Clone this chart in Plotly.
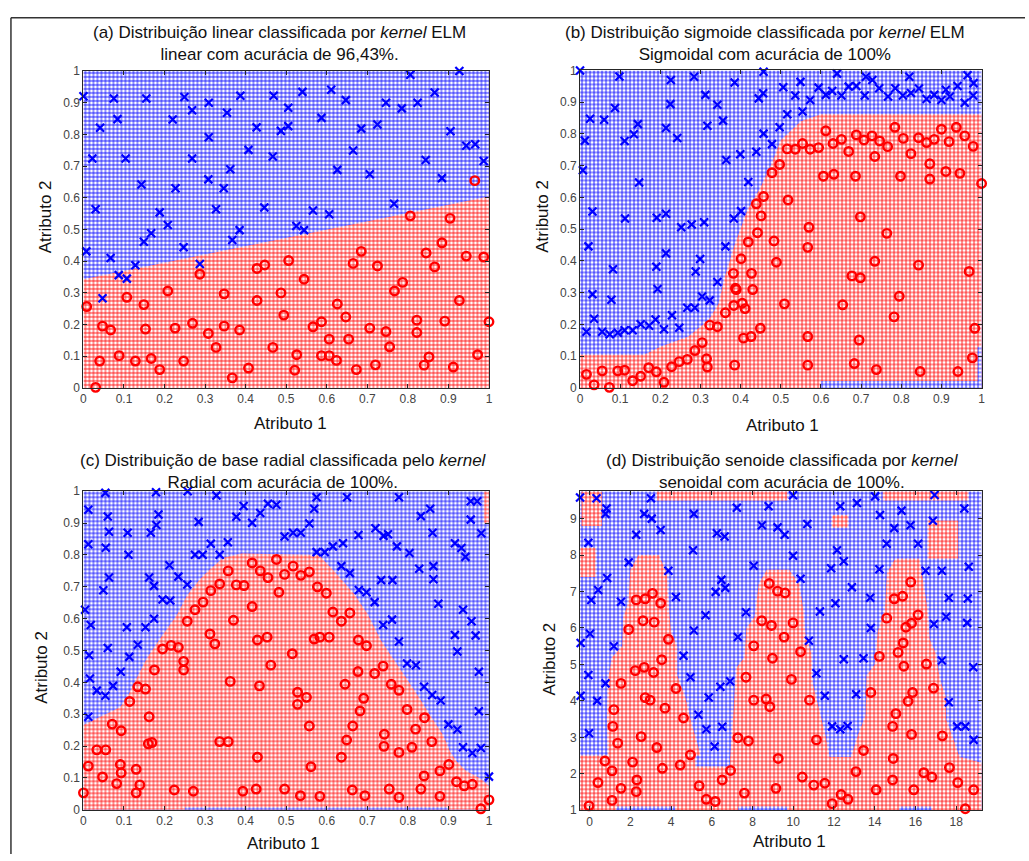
import plotly.graph_objects as go

W, H = 1029, 861
BLUE = "#0000ff"
RED = "#ff0000"

# ---------------- Panel (a) data ----------------
a_blue = [(0.0,0.92),(0.022,0.724),(0.041,0.821),(0.03,0.564),(0.007,0.431),(0.067,0.41),(0.047,0.283),
          (0.075,0.913),(0.084,0.848),(0.104,0.724),(0.087,0.356),(0.107,0.345),(0.128,0.387),(0.143,0.642),
          (0.149,0.461),(0.155,0.913),(0.167,0.488),(0.188,0.554),(0.208,0.514),(0.22,0.847),(0.227,0.63),
          (0.249,0.918),(0.247,0.444),(0.268,0.876),(0.268,0.724),(0.287,0.391),(0.309,0.9),(0.309,0.791),
          (0.308,0.658),(0.327,0.564),(0.346,0.63),(0.354,0.868),(0.362,0.69),(0.367,0.467),(0.385,0.498),
          (0.387,0.922),(0.407,0.751),(0.427,0.822),(0.446,0.569),(0.467,0.73),(0.469,0.922),(0.487,0.811),
          (0.505,0.884),(0.505,0.826),(0.525,0.511),(0.544,0.498),(0.54,0.934),(0.566,0.56),(0.587,0.852),
          (0.606,0.548),(0.611,0.941),(0.626,0.688),(0.647,0.908),(0.665,0.749),(0.685,0.818),(0.706,0.674),
          (0.725,0.831),(0.746,0.9),(0.766,0.581),(0.785,0.882),(0.806,0.988),(0.824,0.9),(0.844,0.719),
          (0.866,0.932),(0.884,0.662),(0.905,0.81),(0.927,1.0),(0.944,0.764),(0.966,0.769),(0.987,0.716)]
a_red = [(0.965,0.654),(0.008,0.257),(0.03,0.002),(0.04,0.085),(0.047,0.195),(0.067,0.183),(0.088,0.102),
         (0.107,0.286),(0.128,0.085),(0.149,0.263),(0.153,0.186),(0.167,0.093),(0.188,0.058),(0.208,0.306),
         (0.226,0.189),(0.247,0.085),(0.269,0.204),(0.287,0.359),(0.308,0.172),(0.327,0.128),(0.347,0.297),
         (0.347,0.195),(0.367,0.032),(0.385,0.183),(0.407,0.063),(0.428,0.377),(0.447,0.388),(0.428,0.276),
         (0.467,0.128),(0.487,0.3),(0.494,0.23),(0.506,0.402),(0.526,0.105),(0.521,0.056),(0.544,0.343),
         (0.566,0.193),(0.587,0.209),(0.587,0.102),(0.606,0.154),(0.606,0.102),(0.624,0.087),(0.626,0.265),
         (0.647,0.224),(0.654,0.154),(0.665,0.393),(0.685,0.431),(0.673,0.058),(0.706,0.189),(0.72,0.073),
         (0.725,0.385),(0.746,0.178),(0.755,0.13),(0.767,0.306),(0.787,0.333),(0.806,0.543),(0.822,0.214),
         (0.822,0.175),(0.84,0.072),(0.852,0.098),(0.845,0.426),(0.866,0.382),(0.884,0.458),(0.891,0.211),
         (0.904,0.535),(0.912,0.066),(0.927,0.276),(0.944,0.416),(0.972,0.105),(0.987,0.413),(1.0,0.209)]
a_boundary = [(0.0,0.343),(1.0,0.604)]

# ---------------- Panel (b) data ----------------
b_blue = [(0,1.0),(0.012,0.779),(0.007,0.686),(0.025,0.848),(0.06,0.845),(0.087,0.882),(0.098,0.981),
          (0.111,0.778),(0.134,0.799),(0.144,0.831),(0.147,0.647),(0.031,0.556),(0.021,0.446),(0.082,0.374),
          (0.031,0.295),(0.035,0.218),(0.016,0.177),(0.078,0.278),(0.055,0.177),(0.074,0.169),(0.094,0.174),
          (0.112,0.534),(0.111,0.182),(0.131,0.182),(0.151,0.201),(0.172,0.196),(0.191,0.536),(0.19,0.382),
          (0.193,0.312),(0.188,0.216),(0.209,0.185),(0.214,0.549),(0.214,0.819),(0.214,0.424),(0.226,0.97),
          (0.225,0.894),(0.242,0.787),(0.229,0.229),(0.247,0.19),(0.252,0.506),(0.267,0.253),(0.278,0.515),
          (0.284,0.98),(0.286,0.253),(0.288,0.367),(0.299,0.406),(0.309,0.522),(0.304,0.288),(0.312,0.923),
          (0.317,0.826),(0.323,0.276),(0.342,0.892),(0.342,0.334),(0.356,0.842),(0.362,0.446),(0.364,0.718),
          (0.385,0.962),(0.383,0.534),(0.399,0.736),(0.401,0.557),(0.419,0.649),(0.439,0.744),(0.445,0.912),
          (0.456,0.928),(0.457,0.996),(0.457,0.801),(0.478,0.768),(0.497,0.821),(0.506,0.947),(0.516,0.862),
          (0.536,0.921),(0.549,0.964),(0.554,0.871),(0.573,0.907),(0.594,0.946),(0.612,0.923),(0.628,0.935),
          (0.64,0.99),(0.651,0.921),(0.669,0.949),(0.688,0.951),(0.709,0.921),(0.712,0.98),(0.728,0.97),
          (0.745,0.944),(0.767,0.918),(0.785,0.944),(0.804,0.921),(0.82,0.98),(0.824,0.929),(0.844,0.943),
          (0.863,0.91),(0.882,0.923),(0.9,0.907),(0.911,0.939),(0.921,0.918),(0.94,0.951),(0.958,0.898),
          (0.965,0.985),(0.98,0.96),(0.979,0.921)]
b_red = [(0.016,0.043),(0.035,0.01),(0.055,0.054),(0.073,0.002),(0.094,0.054),(0.111,0.056),(0.131,0.023),
         (0.151,0.037),(0.171,0.064),(0.19,0.051),(0.209,0.018),(0.228,0.067),(0.247,0.083),(0.267,0.09),
         (0.286,0.118),(0.304,0.143),(0.315,0.092),(0.317,0.066),(0.323,0.198),(0.342,0.193),(0.362,0.237),
         (0.383,0.26),(0.382,0.361),(0.387,0.314),(0.389,0.31),(0.401,0.407),(0.404,0.267),(0.411,0.25),
         (0.407,0.157),(0.385,0.072),(0.426,0.162),(0.427,0.361),(0.43,0.31),(0.419,0.46),(0.442,0.489),
         (0.439,0.58),(0.451,0.542),(0.457,0.603),(0.449,0.188),(0.478,0.678),(0.497,0.704),(0.483,0.463),
         (0.489,0.396),(0.518,0.592),(0.509,0.265),(0.516,0.753),(0.536,0.752),(0.554,0.77),(0.573,0.752),
         (0.594,0.757),(0.57,0.506),(0.567,0.443),(0.567,0.162),(0.567,0.072),(0.612,0.81),(0.606,0.667),
         (0.63,0.77),(0.632,0.673),(0.651,0.783),(0.654,0.262),(0.669,0.745),(0.688,0.797),(0.686,0.667),
         (0.677,0.353),(0.698,0.347),(0.698,0.539),(0.695,0.151),(0.683,0.077),(0.707,0.781),(0.727,0.794),
         (0.734,0.729),(0.746,0.778),(0.734,0.399),(0.738,0.058),(0.766,0.76),(0.764,0.487),(0.784,0.821),
         (0.795,0.289),(0.782,0.224),(0.798,0.667),(0.805,0.786),(0.824,0.738),(0.843,0.788),(0.843,0.387),
         (0.847,0.052),(0.863,0.773),(0.871,0.706),(0.871,0.658),(0.882,0.783),(0.9,0.815),(0.911,0.682),
         (0.919,0.776),(0.937,0.821),(0.946,0.676),(0.958,0.794),(0.979,0.761),(0.969,0.367),(0.983,0.188),
         (0.977,0.095),(0.941,0.052),(1.0,0.644)]
b_boundary = [(0,0.105),(0.16,0.105),(0.2,0.13),(0.27,0.162),(0.32,0.214),(0.345,0.265),(0.36,0.348),
              (0.385,0.451),(0.418,0.564),(0.447,0.626),(0.475,0.7),(0.5,0.78),(0.55,0.84),(0.6,0.862),(1.0,0.862)]
b_blue_pockets = [[(0.6,0.0),(0.6,0.022),(1.0,0.022),(1.0,0.0)],
                  [(0.99,0.0),(0.99,0.13),(1.0,0.13),(1.0,0.0)]]

# ---------------- Panel (c) data ----------------
c_blue = [(0.012,0.942),(0.012,0.834),(0.004,0.628),(0.018,0.58),(0.014,0.485),(0.016,0.412),(0.033,0.374),
          (0.012,0.292),(0.054,0.995),(0.06,0.921),(0.063,0.873),(0.055,0.823),(0.063,0.729),(0.049,0.689),
          (0.06,0.508),(0.054,0.358),(0.073,0.389),(0.092,0.433),(0.109,0.87),(0.111,0.801),(0.107,0.573),
          (0.113,0.48),(0.134,0.518),(0.153,0.573),(0.166,0.87),(0.162,0.729),(0.174,0.703),(0.174,0.6),
          (0.179,0.997),(0.185,0.927),(0.18,0.894),(0.195,0.66),(0.214,0.657),(0.212,0.768),(0.234,0.732),
          (0.256,0.707),(0.257,1.0),(0.284,0.904),(0.275,0.801),(0.294,0.801),(0.314,0.835),(0.336,0.801),
          (0.328,0.987),(0.356,0.84),(0.377,0.92),(0.395,0.954),(0.416,0.901),(0.436,0.932),(0.455,0.961),
          (0.476,0.958),(0.496,0.858),(0.517,0.87),(0.536,0.87),(0.557,0.899),(0.569,0.945),(0.575,0.981),
          (0.575,0.809),(0.595,0.809),(0.615,0.827),(0.636,0.765),(0.64,0.837),(0.65,0.981),(0.657,0.743),
          (0.678,0.863),(0.679,0.69),(0.698,0.683),(0.718,0.652),(0.72,0.884),(0.734,0.721),(0.74,0.86),
          (0.751,0.865),(0.739,0.58),(0.762,0.721),(0.761,0.597),(0.773,0.827),(0.778,0.981),(0.778,0.528),
          (0.804,0.806),(0.798,0.459),(0.82,0.454),(0.828,0.757),(0.832,0.922),(0.84,0.386),(0.855,0.945),
          (0.861,0.87),(0.863,0.765),(0.863,0.724),(0.86,0.36),(0.875,0.647),(0.881,0.343),(0.9,0.268),
          (0.916,0.837),(0.916,0.549),(0.922,0.497),(0.922,0.252),(0.932,0.822),(0.942,0.794),(0.936,0.628),
          (0.936,0.196),(0.955,0.911),(0.959,0.178),(0.957,0.592),(0.955,0.969),(0.971,0.969),(0.967,0.547),
          (0.981,0.868),(0.975,0.433),(0.975,0.309),(0.98,0.194),(1.0,0.104)]
c_red = [(0.0,0.053),(0.012,0.137),(0.033,0.188),(0.055,0.188),(0.047,0.103),(0.071,0.269),(0.082,0.082),
         (0.093,0.248),(0.091,0.142),(0.093,0.116),(0.114,0.34),(0.13,0.127),(0.13,0.053),(0.139,0.078),
         (0.134,0.386),(0.153,0.379),(0.175,0.439),(0.162,0.292),(0.16,0.207),(0.169,0.211),(0.195,0.505),
         (0.216,0.516),(0.234,0.51),(0.247,0.466),(0.247,0.439),(0.224,0.062),(0.256,0.592),(0.271,0.058),
         (0.275,0.628),(0.295,0.652),(0.314,0.688),(0.312,0.552),(0.324,0.521),(0.336,0.709),(0.336,0.214),
         (0.357,0.214),(0.357,0.75),(0.362,0.403),(0.37,0.595),(0.377,0.706),(0.396,0.704),(0.393,0.058),
         (0.416,0.638),(0.416,0.775),(0.429,0.533),(0.429,0.165),(0.426,0.065),(0.436,0.75),(0.434,0.389),
         (0.453,0.542),(0.455,0.729),(0.462,0.454),(0.476,0.786),(0.482,0.683),(0.496,0.739),(0.496,0.065),
         (0.515,0.49),(0.517,0.765),(0.528,0.369),(0.528,0.331),(0.535,0.044),(0.536,0.736),(0.55,0.353),
         (0.557,0.747),(0.557,0.263),(0.561,0.135),(0.569,0.536),(0.577,0.7),(0.583,0.542),(0.583,0.042),
         (0.599,0.68),(0.606,0.542),(0.615,0.621),(0.636,0.592),(0.636,0.165),(0.645,0.394),(0.649,0.219),
         (0.657,0.618),(0.663,0.062),(0.664,0.263),(0.678,0.533),(0.677,0.434),(0.682,0.31),(0.691,0.35),
         (0.694,0.044),(0.698,0.515),(0.718,0.428),(0.739,0.451),(0.742,0.237),(0.741,0.199),(0.754,0.065),
         (0.759,0.394),(0.778,0.375),(0.778,0.18),(0.778,0.039),(0.798,0.315),(0.81,0.196),(0.819,0.253),
         (0.832,0.065),(0.84,0.106),(0.841,0.289),(0.859,0.214),(0.879,0.122),(0.879,0.042),(0.901,0.142),
         (0.92,0.088),(0.939,0.075),(0.959,0.08),(0.98,0.003),(1.0,0.031)]
c_boundary = [(0.0,0.266),(0.09,0.322),(0.108,0.353),(0.132,0.415),(0.157,0.477),(0.19,0.539),(0.23,0.611),
              (0.255,0.672),(0.287,0.724),(0.312,0.755),(0.345,0.791),(0.39,0.805),(0.58,0.8),(0.618,0.75),
              (0.667,0.678),(0.7,0.616),(0.733,0.533),(0.765,0.472),(0.798,0.41),(0.83,0.348),(0.855,0.297),
              (0.887,0.235),(0.904,0.183),(0.92,0.152),(0.944,0.122),(0.977,0.1),(1.0,0.075)]
c_red_pockets = [[(0.988,0.9),(0.988,1.0),(1.0,1.0),(1.0,0.9)]]
c_blue_pockets = [[(0.25,0.0),(0.25,0.008),(0.9,0.008),(0.9,0.0)]]

# ---------------- Panel (d) data ----------------
d_blue = [(-0.47,9.58),(0.34,9.56),(0.83,9.28),(0.78,9.13),(-0.06,8.34),(0.42,7.04),(0.08,6.77),(0.86,7.37),
          (1.54,6.72),(0.02,5.84),(-0.44,5.59),(1.19,5.5),(-0.06,4.71),(0.78,4.48),(-0.44,4.14),(0.37,4.0),
          (-0.03,3.11),(1.92,7.8),(2.29,8.56),(2.68,9.13),(3.05,9.0),(3.01,9.56),(3.49,8.69),(3.87,7.57),
          (4.24,6.85),(4.61,5.24),(4.95,4.65),(5.12,9.13),(5.08,8.13),(5.12,5.93),(5.34,3.62),(5.69,6.35),
          (5.73,3.22),(5.85,4.09),(6.14,2.75),(6.19,6.99),(6.25,8.6),(6.42,4.39),(6.47,7.32),(6.51,3.29),
          (6.63,8.51),(6.66,7.1),(6.9,4.54),(7.23,9.3),(7.28,5.75),(7.68,6.43),(8.06,7.71),(8.46,8.82),
          (8.79,9.34),(9.23,8.76),(9.58,8.56),(9.99,9.64),(9.99,7.98),(10.36,7.35),(10.69,8.85),(10.77,5.65),
          (11.14,4.76),(11.31,6.45),(11.55,4.14),(11.86,7.64),(11.91,3.3),(12.07,6.68),(12.15,8.13),
          (12.31,9.34),(12.31,3.22),(12.48,7.83),(12.48,5.14),(12.67,3.31),(12.88,7.12),(13.09,4.18),
          (13.13,9.43),(13.45,5.17),(13.78,6.83),(13.81,6.0),(14.02,9.61),(14.26,9.1),(14.23,7.61),
          (14.59,8.31),(14.96,8.74),(15.32,9.22),(15.76,8.82),(16.13,8.31),(16.5,7.57),(16.86,8.94),
          (16.91,6.11),(16.94,9.65),(17.3,7.57),(17.3,5.11),(17.51,6.31),(17.64,6.83),(17.64,3.96),
          (18.05,3.3),(18.45,3.3),(18.4,9.28),(18.62,7.68),(18.54,6.14),(18.57,6.81),(18.84,4.92),
          (18.86,2.93),(19.27,9.76)]
d_red = [(-0.03,1.12),(0.41,1.76),(0.75,2.35),(1.1,2.08),(1.1,1.27),(1.14,3.3),(1.19,3.76),(1.38,2.84),
         (1.54,4.48),(1.54,1.6),(1.92,5.96),(2.11,2.32),(2.24,4.83),(2.29,6.77),(2.32,1.83),(2.29,1.51),
         (2.53,3.02),(2.68,4.92),(2.62,6.2),(2.73,6.8),(2.73,4.09),(2.97,4.02),(3.09,6.95),(3.14,4.78),
         (3.17,6.16),(3.3,2.72),(3.49,6.68),(3.54,5.13),(3.57,2.15),(3.7,3.8),(3.87,5.69),(4.24,4.34),
         (4.45,2.24),(4.61,3.53),(4.95,2.52),(5.38,1.67),(5.73,1.3),(6.17,1.24),(6.51,1.83),(6.92,2.09),
         (7.28,2.99),(7.6,1.47),(7.68,4.65),(7.8,2.9),(8.06,4.02),(8.06,5.51),(8.45,6.2),(8.67,4.05),
         (8.85,3.84),(8.82,7.22),(8.93,6.07),(8.98,5.17),(9.23,7.01),(9.26,2.42),(9.15,1.6),(9.55,5.75),
         (9.6,6.96),(9.99,6.14),(9.91,4.59),(10.36,5.35),(10.44,1.91),(10.8,4.02),(11.01,1.69),(11.14,2.93),
         (11.55,1.74),(11.91,1.18),(12.35,1.43),(12.69,1.3),(13.08,2.06),(13.45,2.64),(13.81,4.23),
         (14.07,1.56),(14.23,5.22),(14.59,6.27),(14.88,1.83),(14.91,2.42),(14.88,3.3),(14.96,6.8),
         (15.04,3.65),(15.15,5.33),(15.37,6.87),(15.4,5.59),(15.43,4.95),(15.53,6.02),(15.64,3.99),
         (15.81,6.13),(15.86,4.23),(15.81,3.08),(15.77,7.26),(15.92,1.56),(16.13,6.36),(16.41,2.03),
         (16.54,5.01),(16.81,1.91),(16.89,4.35),(17.32,3.04),(17.67,2.17),(18.08,1.76),(18.45,1.04),
         (18.86,1.56)]
d_red_regions = [
    [(-0.47,1.0),(19.25,1.0),(19.25,2.3),(18.3,2.45),(-0.47,2.5)],
    [(0.9,2.4),(0.85,3.5),(0.9,4.6),(1.1,5.2),(1.6,5.5),(1.65,6.3),(1.9,6.7),(2.0,7.6),(2.4,8.0),(3.4,8.0),
     (3.8,7.5),(3.9,6.5),(4.0,5.9),(4.3,5.5),(4.3,4.7),(4.7,4.1),(5.0,3.4),(5.3,2.8),(5.5,2.4)],
    [(6.9,2.4),(7.05,3.6),(7.2,4.9),(7.6,5.2),(7.7,6.0),(8.1,6.3),(8.3,7.2),(8.7,7.6),(9.8,7.6),(10.3,7.2),
     (10.5,6.5),(10.6,5.8),(10.9,5.3),(10.95,4.5),(11.3,3.7),(11.6,3.0),(11.8,2.4)],
    [(12.8,2.4),(13.2,3.1),(13.55,3.6),(13.6,4.7),(14.0,5.0),(14.15,5.9),(14.5,6.5),(14.6,7.5),(15.0,7.9),
     (16.2,7.9),(16.4,7.2),(16.6,6.5),(16.7,5.7),(17.0,5.3),(17.2,4.6),(17.5,4.1),(17.5,3.5),(17.9,2.9),
     (18.2,2.4)],
    [(16.6,7.9),(16.6,8.95),(18.1,8.95),(18.1,7.9)],
    [(-0.4,8.8),(-0.4,9.75),(0.6,9.75),(0.6,8.8)],
    [(-0.47,7.4),(-0.47,8.2),(0.3,8.2),(0.3,7.4)],
    [(3.3,9.5),(3.3,9.75),(9.7,9.75),(9.7,9.5)],
    [(14.4,9.5),(14.4,9.75),(18.6,9.75),(18.6,9.5)],
    [(11.9,8.75),(11.9,9.1),(12.7,9.1),(12.7,8.75)],
]
d_blue_pockets = [
    [(1.3,1.0),(1.3,1.1),(4.2,1.1),(4.2,1.0)],
    [(7.3,1.0),(7.3,1.1),(9.7,1.1),(9.7,1.0)],
    [(15.2,1.0),(15.2,1.1),(16.8,1.1),(16.8,1.0)],
    [(5.2,2.2),(5.2,2.5),(6.9,2.5),(6.9,2.2)],
]

unit_range = [0, 1]
d_xrange = [-0.47, 19.25]
d_yrange = [1.0, 9.75]
unit_ticks = [0, 0.1, 0.2, 0.3, 0.4, 0.5, 0.6, 0.7, 0.8, 0.9, 1]
d_xticks = [0, 2, 4, 6, 8, 10, 12, 14, 16, 18]
d_yticks = [1, 2, 3, 4, 5, 6, 7, 8, 9]

titles = ["(a) Distribuição linear classificada por <i>kernel</i> ELM<br>linear com acurácia de 96,43%.",
          "(b) Distribuição sigmoide classificada por <i>kernel</i> ELM<br>Sigmoidal com acurácia de 100%",
          "(c) Distribuição de base radial classificada pelo <i>kernel</i><br>Radial com acurácia de 100%.",
          "(d) Distribuição senoide classificada por <i>kernel</i><br>senoidal com acurácia de 100%."]

FONT = "Liberation Sans, Arial, sans-serif"

fig = go.Figure()


def region(pts, color, ax):
    xs = [p[0] for p in pts] + [pts[0][0]]
    ys = [p[1] for p in pts] + [pts[0][1]]
    fig.add_trace(go.Scatter(
        x=xs, y=ys, mode="none", fill="toself", hoverinfo="skip", showlegend=False,
        fillpattern=dict(shape="+", fgcolor=color, bgcolor="white", size=4, solidity=0.38, fillmode="replace"),
        xaxis="x" + ax, yaxis="y" + ax))


def rect(xr, yr):
    return [(xr[0], yr[0]), (xr[0], yr[1]), (xr[1], yr[1]), (xr[1], yr[0])]


def points(pts, kind, ax):
    if kind == "x":
        mk = dict(symbol="x-thin", size=8, line=dict(color=BLUE, width=2.2), color=BLUE)
    else:
        mk = dict(symbol="circle-open", size=8.5, line=dict(color=RED, width=2.4), color=RED)
    fig.add_trace(go.Scatter(x=[p[0] for p in pts], y=[p[1] for p in pts], mode="markers", marker=mk,
                             cliponaxis=False, showlegend=False, hoverinfo="skip",
                             xaxis="x" + ax, yaxis="y" + ax))


# Panel a
region(rect(unit_range, unit_range), RED, "")
region([(0, 1)] + a_boundary + [(1, 1)], BLUE, "")
points(a_blue, "x", "")
points(a_red, "o", "")

# Panel b
region(rect(unit_range, unit_range), BLUE, "2")
region([(0, 0)] + b_boundary + [(1, 0)], RED, "2")
for p in b_blue_pockets:
    region(p, BLUE, "2")
points(b_blue, "x", "2")
points(b_red, "o", "2")

# Panel c
region(rect(unit_range, unit_range), BLUE, "3")
region([(0, 0)] + c_boundary + [(1, 0)], RED, "3")
for p in c_red_pockets:
    region(p, RED, "3")
for p in c_blue_pockets:
    region(p, BLUE, "3")
points(c_blue, "x", "3")
points(c_red, "o", "3")

# Panel d
region(rect(d_xrange, d_yrange), BLUE, "4")
for p in d_red_regions:
    region(p, RED, "4")
for p in d_blue_pockets:
    region(p, BLUE, "4")
points(d_blue, "x", "4")
points(d_red, "o", "4")

# Layout: pixel boxes of each axes
boxes = {"": (81, 489.3, 65, 387.3), "2": (581, 985.3, 64.5, 387.3),
         "3": (81, 489.3, 492.3, 816), "4": (581, 985.3, 492.3, 816.5)}
ranges = {"": (unit_range, unit_range, unit_ticks, unit_ticks),
          "2": (unit_range, unit_range, unit_ticks, unit_ticks),
          "3": (unit_range, unit_range, unit_ticks, unit_ticks),
          "4": (d_xrange, d_yrange, d_xticks, d_yticks)}

axstyle = dict(showline=True, linecolor="#262626", linewidth=1, mirror="ticks", ticks="inside",
               ticklen=4, tickcolor="#262626", showgrid=False, zeroline=False,
               tickfont=dict(family=FONT, size=12, color="#444"))
lay = {}
for k, (x0, x1, y0, y1) in boxes.items():
    xr, yr, xt, yt = ranges[k]
    lay["xaxis" + k] = dict(domain=[x0 / W, x1 / W], range=xr, tickvals=xt, anchor="y" + k, **axstyle)
    lay["yaxis" + k] = dict(domain=[1 - y1 / H, 1 - y0 / H], range=yr, tickvals=yt, anchor="x" + k, **axstyle)

ann = []
title_pos = [(278, 37.5), (767, 37.5), (282, 471.7), (785, 472)]
for t, (x, y) in zip(titles, title_pos):
    ann.append(dict(text=t, x=x / W, y=1 - y / H, xref="paper", yref="paper", showarrow=False,
                    xanchor="center", yanchor="middle", font=dict(family=FONT, size=17, color="#111")))
xlab_pos = [(289, 423), (785, 425), (282, 850), (792, 848)]
for (x, y) in xlab_pos:
    ann.append(dict(text="Atributo 1", x=x / W, y=1 - y / H, xref="paper", yref="paper", showarrow=False,
                    xanchor="center", yanchor="middle", font=dict(family=FONT, size=17, color="#111")))
ylab_pos = [(43, 213), (543, 213), (38, 671), (550, 663)]
for (x, y) in ylab_pos:
    ann.append(dict(text="Atributo 2", x=x / W, y=1 - y / H, xref="paper", yref="paper", showarrow=False,
                    textangle=-90, xanchor="center", yanchor="middle",
                    font=dict(family=FONT, size=17, color="#111")))

shapes = [dict(type="line", xref="paper", yref="paper", x0=8 / W, x1=1, y0=1 - 11 / H, y1=1 - 11 / H,
               line=dict(color="#333", width=1.5)),
          dict(type="line", xref="paper", yref="paper", x0=8 / W, x1=8 / W, y0=0, y1=1 - 11 / H,
               line=dict(color="#333", width=1.5))]

fig.update_layout(width=W, height=H, margin=dict(l=0, r=0, t=0, b=0), paper_bgcolor="white",
                  plot_bgcolor="white", showlegend=False, annotations=ann, shapes=shapes, **lay)

fig.write_html("out.html")
